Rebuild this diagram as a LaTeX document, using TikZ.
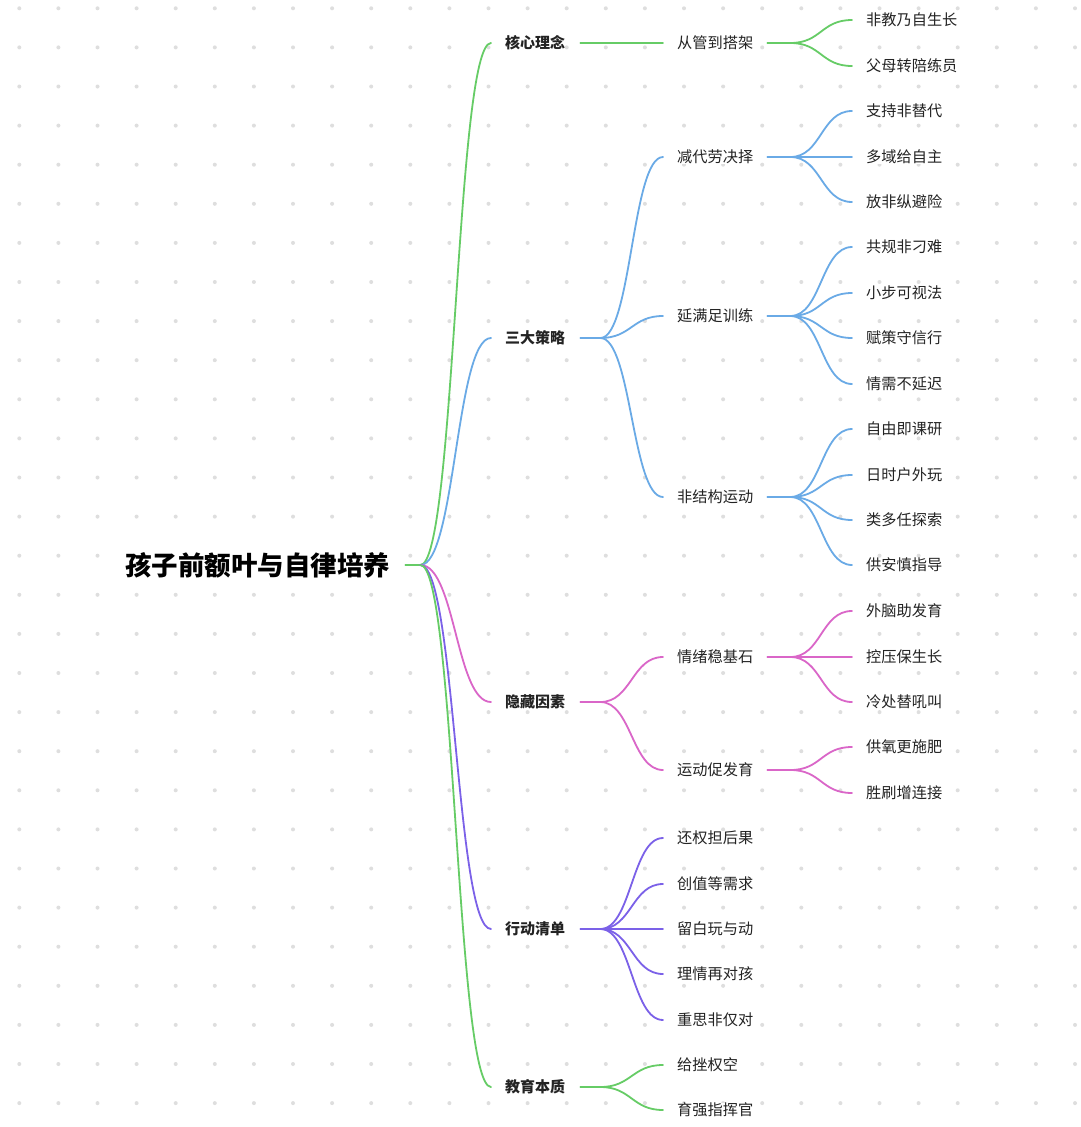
\documentclass[tikz,border=0pt]{standalone}
\usepackage{fontspec}
\setmainfont{Noto Sans CJK SC}
\definecolor{grn}{RGB}{102,204,102}
\definecolor{blu}{RGB}{106,170,230}
\definecolor{pnk}{RGB}{218,102,200}
\definecolor{ppl}{RGB}{123,97,232}
\definecolor{dotc}{RGB}{222,222,222}
\definecolor{ink}{RGB}{35,35,35}
\newcommand{\twig}[4]{\draw[lnk,#1] (#2) .. controls +(#4,0) and +(-#4,0) .. ([xshift=-14pt]#3.west);}

\begin{document}
\begin{tikzpicture}[x=1pt,y=-1pt,
      lnk/.style={line width=1.8pt,line cap=round},
      rootbox/.style={anchor=west,inner sep=0pt,fill=white,font=\fontsize{26.5}{30}\selectfont\bfseries,text=black},
      topic/.style={anchor=west,inner sep=0pt,fill=white,font=\fontsize{15}{18}\selectfont\bfseries,text=ink},
      sub/.style={anchor=west,inner sep=0pt,fill=white,font=\fontsize{15.2}{18}\selectfont,text=ink}]
  \fill[white] (0,0) rectangle (1080,1127);
  \useasboundingbox (0,0) rectangle (1080,1127);
  % dot grid
  \foreach \i in {0,...,27}
    \foreach \j in {0,...,28}
      \fill[dotc] ({19.3+39.1*\i},{8.3+39.1*\j}) circle (2);

  % root and topics
  \node[rootbox] (root) at (125,565) {孩子前额叶与自律培养};
  \node[topic] (core) at (505,43) {核心理念};
  \node[topic] (strat) at (505,338) {三大策略};
  \node[topic] (hidden) at (505,702) {隐藏因素};
  \node[topic] (act) at (505,929) {行动清单};
  \node[topic] (ess) at (505,1087) {教育本质};

  % second level
  \node[sub] (core-a) at (677,43) {从管到搭架};
  \node[sub] (strat-a) at (677,157) {减代劳决择};
  \node[sub] (strat-b) at (677,316) {延满足训练};
  \node[sub] (strat-c) at (677,497) {非结构运动};
  \node[sub] (hid-a) at (677,657) {情绪稳基石};
  \node[sub] (hid-b) at (677,770) {运动促发育};
  \node[sub] (act-a) at (677,838) {还权担后果};
  \node[sub] (act-b) at (677,884) {创值等需求};
  \node[sub] (act-c) at (677,929) {留白玩与动};
  \node[sub] (act-d) at (677,974) {理情再对孩};
  \node[sub] (act-e) at (677,1020) {重思非仅对};
  \node[sub] (ess-a) at (677,1065) {给挫权空};
  \node[sub] (ess-b) at (677,1110) {育强指挥官};

  % leaves
  \node[sub] (core-a1) at (866,20) {非教乃自生长};
  \node[sub] (core-a2) at (866,66) {父母转陪练员};
  \node[sub] (strat-a1) at (866,111) {支持非替代};
  \node[sub] (strat-a2) at (866,157) {多域给自主};
  \node[sub] (strat-a3) at (866,202) {放非纵避险};
  \node[sub] (strat-b1) at (866,247) {共规非刁难};
  \node[sub] (strat-b2) at (866,293) {小步可视法};
  \node[sub] (strat-b3) at (866,338) {赋策守信行};
  \node[sub] (strat-b4) at (866,384) {情需不延迟};
  \node[sub] (strat-c1) at (866,429) {自由即课研};
  \node[sub] (strat-c2) at (866,475) {日时户外玩};
  \node[sub] (strat-c3) at (866,520) {类多任探索};
  \node[sub] (strat-c4) at (866,565) {供安慎指导};
  \node[sub] (hid-a1) at (866,611) {外脑助发育};
  \node[sub] (hid-a2) at (866,657) {控压保生长};
  \node[sub] (hid-a3) at (866,702) {冷处替吼叫};
  \node[sub] (hid-b1) at (866,747) {供氧更施肥};
  \node[sub] (hid-b2) at (866,793) {胜刷增连接};

  % root branches
  \draw[lnk,grn] ([xshift=15pt]root.east) -- ++(15,0) coordinate (root-j);
  \twig{grn}{root-j}{core}{35}
  \twig{blu}{root-j}{strat}{35}
  \twig{pnk}{root-j}{hidden}{35}
  \twig{ppl}{root-j}{act}{35}
  \twig{grn}{root-j}{ess}{35}

  % topic branches
  \draw[lnk,grn] ([xshift=15pt]core.east) -- ++(20,0) coordinate (core-j);
  \twig{grn}{core-j}{core-a}{31}
  \draw[lnk,blu] ([xshift=15pt]strat.east) -- ++(20,0) coordinate (strat-j);
  \twig{blu}{strat-j}{strat-a}{31}
  \twig{blu}{strat-j}{strat-b}{31}
  \twig{blu}{strat-j}{strat-c}{31}
  \draw[lnk,pnk] ([xshift=15pt]hidden.east) -- ++(20,0) coordinate (hidden-j);
  \twig{pnk}{hidden-j}{hid-a}{31}
  \twig{pnk}{hidden-j}{hid-b}{31}
  \draw[lnk,ppl] ([xshift=15pt]act.east) -- ++(20,0) coordinate (act-j);
  \twig{ppl}{act-j}{act-a}{31}
  \twig{ppl}{act-j}{act-b}{31}
  \twig{ppl}{act-j}{act-c}{31}
  \twig{ppl}{act-j}{act-d}{31}
  \twig{ppl}{act-j}{act-e}{31}
  \draw[lnk,grn] ([xshift=15pt]ess.east) -- ++(20,0) coordinate (ess-j);
  \twig{grn}{ess-j}{ess-a}{31}
  \twig{grn}{ess-j}{ess-b}{31}

  % second level branches
  \draw[lnk,grn] ([xshift=14pt]core-a.east) -- ++(23,0) coordinate (core-aj);
  \twig{grn}{core-aj}{core-a1}{31}
  \twig{grn}{core-aj}{core-a2}{31}
  \draw[lnk,blu] ([xshift=14pt]strat-a.east) -- ++(23,0) coordinate (strat-aj);
  \twig{blu}{strat-aj}{strat-a1}{31}
  \twig{blu}{strat-aj}{strat-a2}{31}
  \twig{blu}{strat-aj}{strat-a3}{31}
  \draw[lnk,blu] ([xshift=14pt]strat-b.east) -- ++(23,0) coordinate (strat-bj);
  \twig{blu}{strat-bj}{strat-b1}{31}
  \twig{blu}{strat-bj}{strat-b2}{31}
  \twig{blu}{strat-bj}{strat-b3}{31}
  \twig{blu}{strat-bj}{strat-b4}{31}
  \draw[lnk,blu] ([xshift=14pt]strat-c.east) -- ++(23,0) coordinate (strat-cj);
  \twig{blu}{strat-cj}{strat-c1}{31}
  \twig{blu}{strat-cj}{strat-c2}{31}
  \twig{blu}{strat-cj}{strat-c3}{31}
  \twig{blu}{strat-cj}{strat-c4}{31}
  \draw[lnk,pnk] ([xshift=14pt]hid-a.east) -- ++(23,0) coordinate (hid-aj);
  \twig{pnk}{hid-aj}{hid-a1}{31}
  \twig{pnk}{hid-aj}{hid-a2}{31}
  \twig{pnk}{hid-aj}{hid-a3}{31}
  \draw[lnk,pnk] ([xshift=14pt]hid-b.east) -- ++(23,0) coordinate (hid-bj);
  \twig{pnk}{hid-bj}{hid-b1}{31}
  \twig{pnk}{hid-bj}{hid-b2}{31}
\end{tikzpicture}
\end{document}
